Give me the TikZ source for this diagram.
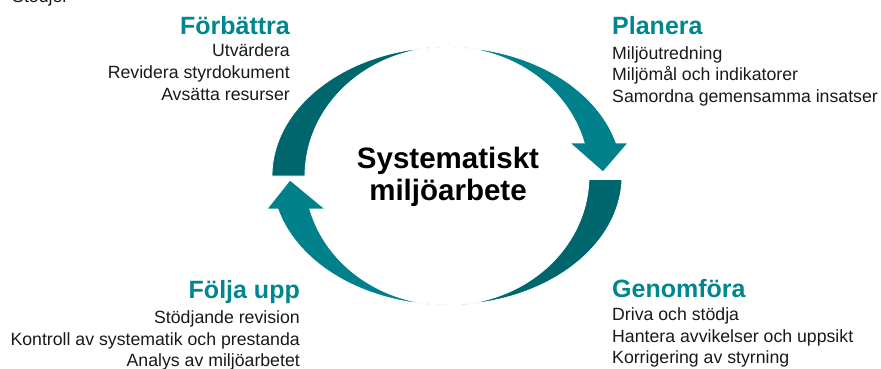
\documentclass[tikz,border=0pt]{standalone}
\usepackage{fontspec}
\setmainfont{Liberation Sans}
\definecolor{tealarrow}{RGB}{0,128,138}
\definecolor{tealdark}{RGB}{0,102,110}
\definecolor{tealhead}{RGB}{0,134,142}

\begin{document}
\begin{tikzpicture}[x=1pt,y=1pt,
  head/.style={font=\fontsize{25}{30}\selectfont\bfseries, text=tealhead, inner sep=0pt},
  item/.style={font=\fontsize{17.7}{21.5}\selectfont, text=black!90, inner sep=0pt},
  title/.style={font=\fontsize{29.5}{32}\selectfont\bfseries, align=center, inner sep=0pt},
  piece/.style={draw=white, line width=0.8pt}]
\useasboundingbox (0,0) rectangle (881,-369);

% the cycle
\begin{scope}[shift={(447,-176)}]
\filldraw[piece, fill=tealdark] (180:175 and 129) arc[start angle=180, end angle=93.5, x radius=175, y radius=129]
  -- (93.5:142 and 129) arc[start angle=93.5, end angle=180, x radius=142, y radius=129] -- cycle;
\filldraw[piece, fill=tealarrow] (87.5:175 and 129) arc[start angle=87.5, end angle=14.8, x radius=175, y radius=129]
  -- (181,33) -- (156,4) -- (123,33)
  -- (14.8:142 and 129) arc[start angle=14.8, end angle=87.5, x radius=142, y radius=129] -- cycle;
\filldraw[piece, fill=tealdark] (-1.5:175 and 129) arc[start angle=-1.5, end angle=-84, x radius=175, y radius=129]
  -- (-84:142 and 129) arc[start angle=-84, end angle=-1.5, x radius=142, y radius=129] -- cycle;
\filldraw[piece, fill=tealarrow] (269:175 and 129) arc[start angle=269, end angle=194.8, x radius=175, y radius=129]
  -- (-180,-33) -- (-157,-4) -- (-122,-33)
  -- (194.8:142 and 129) arc[start angle=194.8, end angle=269, x radius=142, y radius=129] -- cycle;
\end{scope}

\node[title] (center) at (448,-176.4) {Systematiskt\\miljöarbete};

\node[item, anchor=base west] (stod) at (12,-3) {Stödjer};

% Förbättra
\node[head, anchor=base east] (forb) at (290,-35) {Förbättra};
\foreach \t [count=\i] in {Utvärdera, Revidera styrdokument, Avsätta resurser}
  \node[item, anchor=base east] (forb-\i) at (290,-35.5-21.5*\i) {\t};

% Planera
\node[head, anchor=base west] (plan) at (612,-35) {Planera};
\foreach \t [count=\i] in {Miljöutredning, Miljömål och indikatorer, Samordna gemensamma insatser}
  \node[item, anchor=base west] (plan-\i) at (612,-38-21.5*\i) {\t};

% Genomföra
\node[head, anchor=base west] (genom) at (612,-297) {Genomföra};
\foreach \t [count=\i] in {Driva och stödja, Hantera avvikelser och uppsikt, Korrigering av styrning}
  \node[item, anchor=base west] (genom-\i) at (612,-299-21.5*\i) {\t};

% Följa upp
\node[head, anchor=base east] (folj) at (300,-298) {Följa upp};
\foreach \t [count=\i] in {Stödjande revision, Kontroll av systematik och prestanda, Analys av miljöarbetet}
  \node[item, anchor=base east] (folj-\i) at (300,-302-21.5*\i) {\t};
\end{tikzpicture}
\end{document}
